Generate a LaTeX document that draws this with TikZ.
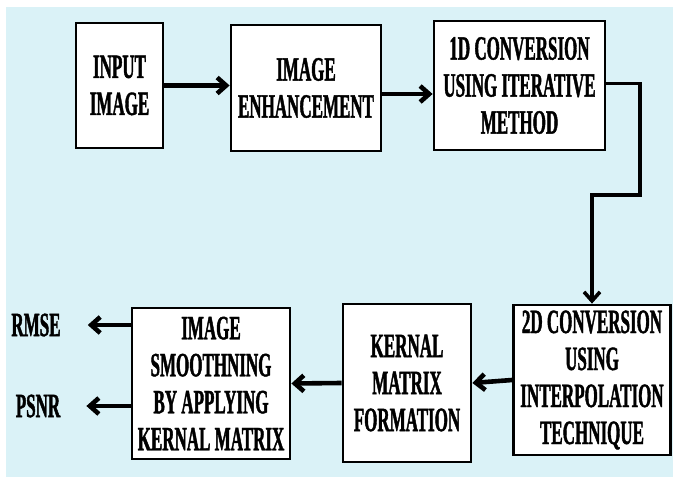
\documentclass[tikz,border=0pt]{standalone}
\usepackage{xcolor}
\usepackage{fontspec}
\usepackage{tikz}
\usetikzlibrary{arrows.meta, positioning, calc}
\newfontfamily\blockfont[FakeStretch=0.5, FakeBold=1.2]{Liberation Serif}
\definecolor{panelBg}{RGB}{218,242,247}

\begin{document}
\begin{tikzpicture}[
  x=1pt, y=-1pt,
  block/.style={draw=black, fill=white, line width=2.8pt, align=center,
               inner sep=0pt, font=\blockfont\bfseries\fontsize{34}{37}\selectfont},
  outlabel/.style={font=\blockfont\bfseries\fontsize{34}{37}\selectfont, inner sep=2pt},
  arr/.style={-{Straight Barb[length=9pt,width=16pt]}, line width=4.6pt, color=black}
]
  \useasboundingbox (0,0) rectangle (673,482);
  \fill[panelBg] (6,7) rectangle (673,477);

  % top row
  \node[block, minimum width=87pt, minimum height=125pt] (input) at (119.5,85.5) {INPUT\\IMAGE};
  \node[block, minimum width=150pt, minimum height=126pt] (enhance) at (306,88) {IMAGE\\ENHANCEMENT};
  \node[block, minimum width=171pt, minimum height=129pt] (conv1d) at (519.5,85.5) {1D CONVERSION\\USING ITERATIVE\\METHOD};

  % bottom row
  \node[block, minimum width=157pt, minimum height=150pt] (conv2d) at (592,380) {2D CONVERSION\\USING\\INTERPOLATION\\TECHNIQUE};
  \node[block, minimum width=128pt, minimum height=158pt] (kernal) at (407,383) {KERNAL\\MATRIX\\FORMATION};
  \node[block, minimum width=158pt, minimum height=151pt] (smooth) at (211,383.5) {IMAGE\\SMOOTHNING\\BY APPLYING\\KERNAL MATRIX};

  % outputs
  \node[outlabel] (rmse) at (36,325) {RMSE};
  \node[outlabel] (psnr) at (38,406) {PSNR};

  \coordinate (bend) at (640,195);

  \draw[arr] (input.east) -- (input.east -| enhance.west);
  \draw[arr] ([yshift=-6pt]enhance.east) -- ([yshift=-6pt]enhance.east -| conv1d.west);
  \draw[arr, line width=3.6pt] ([yshift=2pt]conv1d.east) -| (bend) -| (conv2d.north);
  \draw[arr] (conv2d.west) -- (kernal.east);
  \draw[arr] (kernal.west) -- (smooth.west -| smooth.east);
  \draw[arr, shorten >=25pt] (smooth.west |- rmse.east) -- (rmse.east);
  \draw[arr, shorten >=24pt] (smooth.west |- psnr.east) -- (psnr.east);
\end{tikzpicture}
\end{document}
